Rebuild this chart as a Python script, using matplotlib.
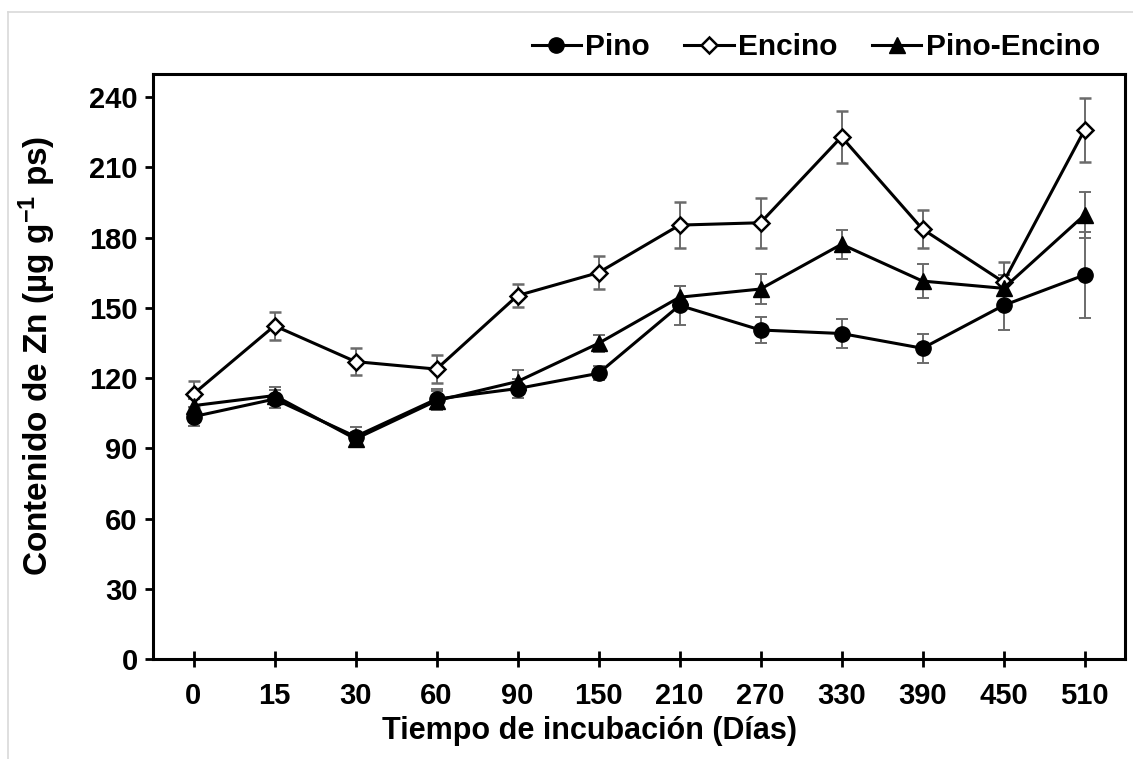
import matplotlib
matplotlib.use("Agg")
import matplotlib.pyplot as plt
from matplotlib.lines import Line2D

plt.rcParams['font.family'] = ['Liberation Sans', 'DejaVu Sans']
plt.rcParams['font.weight'] = 'bold'
plt.rcParams['mathtext.fontset'] = 'custom'
plt.rcParams['mathtext.rm'] = 'Liberation Sans:bold'
plt.rcParams['mathtext.bf'] = 'Liberation Sans:bold'
plt.rcParams['mathtext.default'] = 'rm'

# datos
dias = ['0', '15', '30', '60', '90', '150', '210', '270', '330', '390', '450', '510']

pino = [103.5, 111, 95, 111, 115.5, 122, 151, 140.5, 139, 132.7, 151, 164]
pino_err = [4, 4, 4, 4.5, 4, 3, 8.5, 5.4, 6, 6.3, 10.4, 18.5]

encino = [113.2, 142.3, 127, 123.8, 155.2, 165, 185.3, 186.3, 223, 183.6, 161, 225.9]
encino_err = [5.6, 6, 5.7, 6, 5, 7, 9.8, 10.7, 11.2, 8.2, 8.6, 13.7]

pino_encino = [108.2, 112.5, 94, 110.3, 118.5, 134.8, 154.5, 158, 177.1, 161.4, 158.3, 189.6]
pino_encino_err = [3, 3.5, 3, 4, 5, 3.5, 5, 6.5, 6.3, 7.2, 5.7, 10]

W, H = 1133, 759
fig = plt.figure(figsize=(W / 100, H / 100), dpi=100)
ax = fig.add_axes([153 / W, 1 - 659 / H, (1125 - 153) / W, 585.4 / H])

x = list(range(len(dias)))
err_kw = dict(ecolor='#6b6b6b', elinewidth=1.4, capsize=4.2, capthick=1.4)

ax.errorbar(x, pino, yerr=pino_err, color='black', lw=2.2, marker='o',
            ms=11, mfc='black', mec='black', label='Pino', **err_kw)
ax.errorbar(x, encino, yerr=encino_err, color='black', lw=2.2, marker='D',
            ms=8, mfc='white', mec='black', mew=1.8, label='Encino', **err_kw)
ax.errorbar(x, pino_encino, yerr=pino_encino_err, color='black', lw=2.2, marker='^',
            ms=11, mfc='black', mec='black', label='Pino-Encino', **err_kw)

ax.set_xlim(-0.5, len(dias) - 0.5)
ax.set_ylim(0, 250)
ax.set_yticks(range(0, 241, 30))
ax.set_xticks(x)
ax.set_xticklabels(dias)

for s in ax.spines.values():
    s.set_linewidth(2.2)
    s.set_color('black')

ax.tick_params(axis='y', direction='out', length=6, width=2, pad=5, labelsize=21)
ax.tick_params(axis='x', direction='inout', length=11, width=2, pad=11, labelsize=21)

ax.set_xlabel('Tiempo de incubación (Días)', fontsize=22, fontweight='bold')
ax.xaxis.set_label_coords((590 - 153) / 972, (659 - 716) / 585.4)
ax.set_ylabel(r'Contenido de Zn (µg g$^{-1}$ ps)', fontsize=24, fontweight='bold')
ax.yaxis.set_label_coords((58 - 153) / 972, (659 - 356) / 585.4)

handles = [
    Line2D([], [], color='black', lw=2.2, marker='o', ms=11, mfc='black'),
    Line2D([], [], color='black', lw=2.2, marker='D', ms=8, mfc='white', mew=1.8),
    Line2D([], [], color='black', lw=2.2, marker='^', ms=11, mfc='black'),
]
fig.legend(handles, ['Pino', 'Encino', 'Pino-Encino'], loc='center right',
           bbox_to_anchor=(1100 / W, 1 - 47 / H), ncol=3, frameon=False,
           fontsize=21.5, handlelength=1.65, handletextpad=0.15, columnspacing=1.15,
           borderpad=0, borderaxespad=0)

# borde gris del grafico
fig.add_artist(Line2D([7.5 / W, 7.5 / W], [0, 1 - 12 / H], color='#d9d9d9', lw=1.2))
fig.add_artist(Line2D([7.5 / W, 1], [1 - 12 / H, 1 - 12 / H], color='#d9d9d9', lw=1.2))

fig.savefig('out.png', dpi=100)
